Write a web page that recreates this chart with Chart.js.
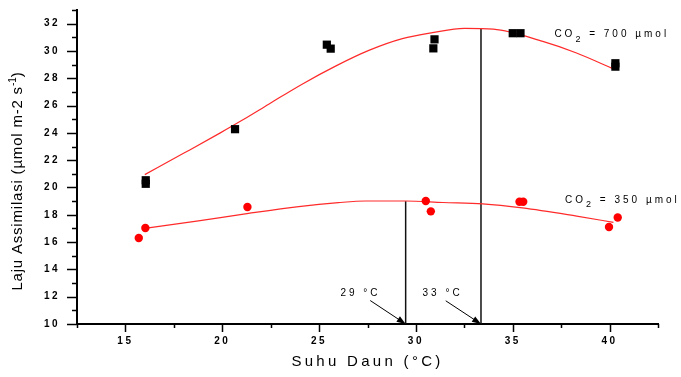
<!DOCTYPE html>
<html>
<head>
<meta charset="utf-8">
<script src="https://cdn.jsdelivr.net/npm/chart.js@4.4.1/dist/chart.umd.min.js"></script>
<style>
html,body{margin:0;padding:0;background:#ffffff;}
#wrap{width:681px;height:377px;position:relative;}
</style>
</head>
<body>
<div id="wrap"><canvas id="c" width="681" height="377"></canvas></div>
<script>
// ---- data ----
const temp700 = [16.05, 16.05, 20.66, 25.40, 25.60, 30.96, 30.90, 35.00, 35.40, 40.30, 40.30];
const rate700 = [20.53, 20.27, 24.27, 30.46, 30.17, 30.85, 30.19, 31.30, 31.30, 29.10, 28.85];

const temp350 = [15.69, 16.03, 21.30, 30.51, 30.77, 35.35, 35.54, 39.97, 40.42];
const rate350 = [16.30, 17.03, 18.57, 19.01, 18.25, 18.96, 18.96, 17.10, 17.80];

const fitTemp700 = [16.0, 18.0, 19.9, 21.0, 22.4, 24.1, 25.85, 27.57, 29.3, 30.85, 32.5, 34.0, 36.55, 38.26, 40.26];
const fitRate700 = [20.94, 22.5, 24.0, 24.9, 26.1, 27.55, 28.89, 30.04, 30.9, 31.34, 31.66, 31.6, 30.7, 29.87, 28.65];

const fitTemp350 = [16.0, 18.77, 21.36, 23.95, 26.0, 27.4, 29.47, 31.4, 33.45, 35.5, 38.3, 40.2];
const fitRate350 = [17.0, 17.55, 18.1, 18.6, 18.89, 19.01, 19.01, 18.9, 18.8, 18.5, 17.9, 17.45];

const optimumTemps = [29.47, 33.36];
const optimumRates = [19.0, 31.66];
const optimumLabels = ['29 °C', '33 °C'];

const seriesLabels = ['CO2 = 700 µmol', 'CO2 = 350 µmol'];
const xTitle = 'Suhu Daun (°C)';
const yTitle = 'Laju Assimilasi (µmol m-2 s-1)';

// ---- helpers ----
const pts = (xs, ys) => xs.map((x, i) => ({x: x, y: ys[i]}));
const vline = (t, r) => [{x: t, y: 10}, {x: t, y: r}];

// annotation anchors (data coordinates)
const labelAnchors = [{x: 37.15, y: 31.2}, {x: 37.7, y: 19.1}];
const optLabelAnchors = [{x: 26.1, y: 12.27}, {x: 30.34, y: 12.27}];
const arrowFrom = [{x: 27.64, y: 11.72}, {x: 31.54, y: 11.70}];

function drawPieces(ctx, pieces, x, y, align) {
  let total = 0;
  pieces.forEach(p => { ctx.font = p.font; ctx.letterSpacing = p.ls; p.w = ctx.measureText(p.t).width; total += p.w; });
  let cx = align === 'center' ? x - total / 2 : x;
  pieces.forEach(p => {
    ctx.font = p.font; ctx.letterSpacing = p.ls;
    ctx.fillText(p.t, cx, y + (p.dy || 0));
    cx += p.w;
  });
}

function arrow(ctx, x1, y1, x2, y2) {
  const ang = Math.atan2(y2 - y1, x2 - x1);
  const L = 9, W = 3.2;
  ctx.beginPath();
  ctx.moveTo(x1, y1);
  ctx.lineTo(x2 - Math.cos(ang) * L * 0.8, y2 - Math.sin(ang) * L * 0.8);
  ctx.stroke();
  ctx.beginPath();
  ctx.moveTo(x2, y2);
  ctx.lineTo(x2 - Math.cos(ang) * L - Math.sin(ang) * W, y2 - Math.sin(ang) * L + Math.cos(ang) * W);
  ctx.lineTo(x2 - Math.cos(ang) * L + Math.sin(ang) * W, y2 - Math.sin(ang) * L - Math.cos(ang) * W);
  ctx.closePath();
  ctx.fill();
}

const extras = {
  id: 'extras',
  beforeDraw(chart) { chart.ctx.letterSpacing = '2.5px'; },
  afterDraw(chart) {
    const ctx = chart.ctx, a = chart.chartArea, xs = chart.scales.x, ys = chart.scales.y;
    ctx.save();
    ctx.strokeStyle = '#000'; ctx.fillStyle = '#000'; ctx.lineWidth = 1.5;
    // tick marks
    ys.ticks.forEach(t => {
      const py = Math.round(ys.getPixelForValue(t.value)) + 0.5;
      const len = (t.value % 2 === 0) ? 10 : 5;
      ctx.beginPath(); ctx.moveTo(a.left - len, py); ctx.lineTo(a.left, py); ctx.stroke();
    });
    xs.ticks.forEach(t => {
      const px = Math.round(xs.getPixelForValue(t.value)) + 0.5;
      const len = (t.value % 5 === 0) ? 8 : 4;
      ctx.beginPath(); ctx.moveTo(px, a.bottom); ctx.lineTo(px, a.bottom + len); ctx.stroke();
    });
    // axis titles
    ctx.textBaseline = 'middle';
    ctx.textAlign = 'left';
    drawPieces(ctx, [{t: xTitle, font: '15px "Liberation Sans", Arial, sans-serif', ls: '3.3px'}],
      (a.left + a.right) / 2, a.bottom + 38, 'center');
    ctx.save();
    ctx.translate(18, (a.top + a.bottom) / 2 + 14);
    ctx.rotate(-Math.PI / 2);
    const yt = yTitle.split(' s-1)');
    drawPieces(ctx, [
      {t: yt[0] + ' s', font: '15px "Liberation Sans", Arial, sans-serif', ls: '0.8px'},
      {t: '-1', font: '10px "Liberation Sans", Arial, sans-serif', ls: '0px', dy: -5},
      {t: ')', font: '15px "Liberation Sans", Arial, sans-serif', ls: '0.8px'}
    ], 0, 0, 'center');
    ctx.restore();
    // series labels with subscript 2
    const f = '10px "Liberation Sans", Arial, sans-serif';
    const fs = '9px "Liberation Sans", Arial, sans-serif';
    seriesLabels.forEach((s, i) => {
      const px = xs.getPixelForValue(labelAnchors[i].x), py = ys.getPixelForValue(labelAnchors[i].y);
      const rest = s.slice(3);
      drawPieces(ctx, [
        {t: 'CO', font: f, ls: '3px'},
        {t: '2', font: fs, ls: '3px', dy: 5},
        {t: rest, font: f, ls: '3px'}
      ], px, py, 'left');
    });
    // optimum labels and arrows
    ctx.lineWidth = 1;
    optimumLabels.forEach((s, i) => {
      const px = xs.getPixelForValue(optLabelAnchors[i].x), py = ys.getPixelForValue(optLabelAnchors[i].y);
      drawPieces(ctx, [{t: s, font: f, ls: '3px'}], px, py, 'left');
      arrow(ctx, xs.getPixelForValue(arrowFrom[i].x), ys.getPixelForValue(arrowFrom[i].y),
        xs.getPixelForValue(optimumTemps[i]), ys.getPixelForValue(10));
    });
    ctx.restore();
  }
};

const lineDs = (data, color, w) => ({
  type: 'line', data: data, showLine: true, borderColor: color, borderWidth: w,
  pointRadius: 0, fill: false, cubicInterpolationMode: 'monotone', order: 2
});

new Chart(document.getElementById('c'), {
  type: 'scatter',
  data: {
    datasets: [
      lineDs(pts(fitTemp700, fitRate700), '#ff2a2a', 1.2),
      lineDs(pts(fitTemp350, fitRate350), '#ff2a2a', 1.2),
      lineDs(vline(optimumTemps[0], optimumRates[0]), '#111', 1.5),
      lineDs(vline(optimumTemps[1], optimumRates[1]), '#111', 1.5),
      {label: seriesLabels[0], data: pts(temp700, rate700), pointStyle: 'rect', pointRadius: 5.8,
       backgroundColor: '#000', borderColor: '#000', borderWidth: 0, order: 1},
      {label: seriesLabels[1], data: pts(temp350, rate350), pointStyle: 'circle', pointRadius: 4.2,
       backgroundColor: '#ff0000', borderColor: '#ff0000', borderWidth: 0, order: 1}
    ]
  },
  options: {
    responsive: false,
    animation: false,
    devicePixelRatio: 1,
    layout: {padding: {top: 10, right: 23, left: 0, bottom: 0}},
    plugins: {legend: {display: false}, tooltip: {enabled: false}},
    scales: {
      x: {
        type: 'linear', min: 12.5, max: 42.5,
        grid: {display: false, drawTicks: false},
        border: {display: true, color: '#000', width: 2},
        ticks: {stepSize: 2.5, autoSkip: false, padding: 11, color: '#000',
          font: {family: '"Liberation Sans", Arial, sans-serif', size: 10, weight: 'bold'},
          callback: v => (v % 5 === 0 ? String(v) : '')},
        afterFit: s => { s.height = 53; s.paddingLeft = 0; s.paddingRight = 0; }
      },
      y: {
        type: 'linear', min: 10, max: 33,
        grid: {display: false, drawTicks: false},
        border: {display: true, color: '#000', width: 2},
        ticks: {stepSize: 1, autoSkip: false, padding: 17, color: '#000',
          font: {family: '"Liberation Sans", Arial, sans-serif', size: 10, weight: 'bold'},
          callback: v => (v % 2 === 0 ? String(v) : '')},
        afterFit: s => { s.width = 77; s.paddingTop = 0; s.paddingBottom = 0; }
      }
    }
  },
  plugins: [extras]
});
</script>
</body>
</html>
